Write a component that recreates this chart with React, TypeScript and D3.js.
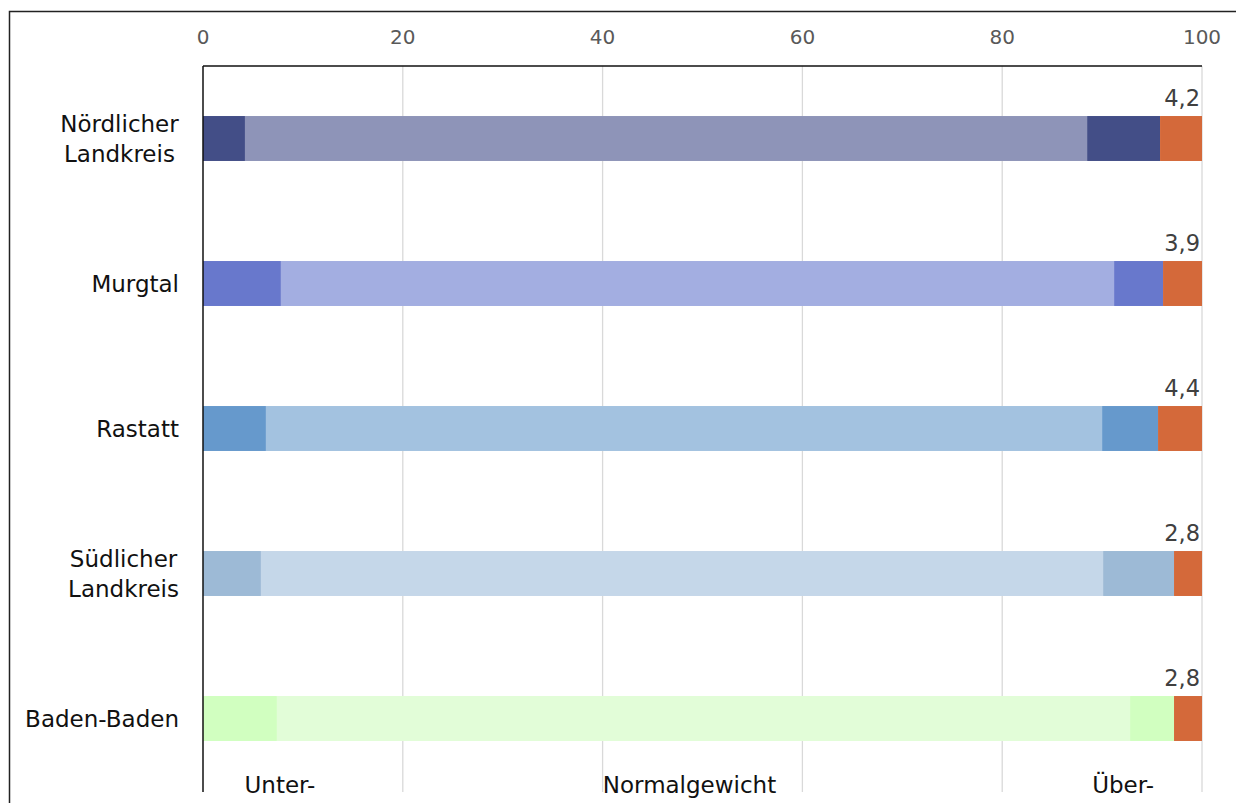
import React, { useEffect, useRef } from "react";
import * as d3 from "d3";

// regions, top to bottom (line breaks as in the original labels)
const regions = ["Nördlicher\nLandkreis", "Murgtal", "Rastatt", "Südlicher\nLandkreis", "Baden-Baden"];

// shares in percent: under, normal, over, obese
const underweight = [4.2, 7.8, 6.3, 5.8, 7.4];
const normalweight = [84.3, 83.4, 83.7, 84.3, 85.4];
const overweight = [7.3, 4.9, 5.6, 7.1, 4.4];
const obese = [4.2, 3.9, 4.4, 2.8, 2.8];

const darkColors = ["#434e87", "#6878cc", "#6699cc", "#9dbad6", "#d1ffc0"];
const lightColors = ["#8e94b8", "#a3aee1", "#a3c2e0", "#c5d7e9", "#e2fdd8"];
const obeseColor = "#d4693a";

const xTicks = [0, 20, 40, 60, 80, 100];

// bottom category captions, placed at the middle of their segment (in %)
const bottomLabels = ["Unter-", "Normalgewicht", "Über-"];
const bottomLabelPos = [7.7, 48.7, 92.1];

const FONT = "'DejaVu Sans', Verdana, sans-serif";

export default function App() {
    const ref = useRef<SVGSVGElement | null>(null);

    useEffect(() => {
        document.body.style.margin = "0";
        const svg = d3.select(ref.current);
        svg.selectAll("*").remove();

        const width = 1236;
        const height = 803;
        const left = 203;
        const right = 1202;
        const top = 66;
        const bottom = 792;

        const x = d3.scaleLinear().domain([0, 100]).range([left, right]);
        const y = d3.scaleBand()
            .domain(regions)
            .range([top, bottom - 1])
            .paddingInner(0.69)
            .paddingOuter(0.345);

        // outer frame
        svg.append("rect")
            .attr("x", 9.5)
            .attr("y", 11.5)
            .attr("width", width)
            .attr("height", height)
            .attr("fill", "none")
            .attr("stroke", "#222")
            .attr("stroke-width", 1.5);

        // grid
        svg.append("g")
            .selectAll("line")
            .data(xTicks.slice(1))
            .enter()
            .append("line")
            .attr("x1", d => x(d))
            .attr("x2", d => x(d))
            .attr("y1", top)
            .attr("y2", bottom)
            .attr("stroke", "#d9d9d9")
            .attr("stroke-width", 1.3);

        // tick labels
        svg.append("g")
            .selectAll("text")
            .data(xTicks)
            .enter()
            .append("text")
            .attr("x", d => x(d))
            .attr("y", 44)
            .attr("text-anchor", "middle")
            .attr("font-family", FONT)
            .attr("font-size", 20)
            .attr("fill", "#595959")
            .text(d => d);

        // stacked bars
        const rows = regions.map((r, i) => {
            const vals = [underweight[i], normalweight[i], overweight[i], obese[i]];
            const cols = [darkColors[i], lightColors[i], darkColors[i], obeseColor];
            let acc = 0;
            return vals.map((v, j) => {
                const seg = { region: r, x0: acc, x1: acc + v, color: cols[j] };
                acc += v;
                return seg;
            });
        });

        svg.append("g")
            .selectAll("rect")
            .data(rows.flat())
            .enter()
            .append("rect")
            .attr("x", d => x(d.x0))
            .attr("y", d => y(d.region)!)
            .attr("width", d => Math.max(0, x(Math.min(d.x1, 100)) - x(d.x0)))
            .attr("height", y.bandwidth())
            .attr("fill", d => d.color);

        // obese value labels
        svg.append("g")
            .selectAll("text")
            .data(regions)
            .enter()
            .append("text")
            .attr("x", x(100) - 2)
            .attr("y", d => y(d)! - 10)
            .attr("text-anchor", "end")
            .attr("font-family", FONT)
            .attr("font-size", 22.5)
            .attr("fill", "#404040")
            .text((d, i) => obese[i].toFixed(1).replace(".", ","));

        // frame lines of the plot area
        svg.append("line")
            .attr("x1", left)
            .attr("x2", right)
            .attr("y1", top)
            .attr("y2", top)
            .attr("stroke", "#111")
            .attr("stroke-width", 1.5);
        svg.append("line")
            .attr("x1", left)
            .attr("x2", left)
            .attr("y1", top)
            .attr("y2", bottom)
            .attr("stroke", "#111")
            .attr("stroke-width", 1.5);

        // category labels (right aligned block, lines centred)
        regions.forEach(r => {
            const lines = r.split("\n");
            const cy = y(r)! + y.bandwidth() / 2;
            const t = svg.append("text")
                .attr("font-family", FONT)
                .attr("font-size", 23)
                .attr("fill", "#111")
                .attr("text-anchor", "middle");
            lines.forEach((l, k) => {
                t.append("tspan")
                    .attr("x", 0)
                    .attr("y", cy + 8 + (k - (lines.length - 1) / 2) * 30)
                    .text(l);
            });
            const w = (t.node() as SVGTextElement).getBBox().width;
            t.selectAll("tspan").attr("x", 179 - w / 2);
        });

        // bottom captions
        svg.append("g")
            .selectAll("text")
            .data(bottomLabels)
            .enter()
            .append("text")
            .attr("x", (d, i) => x(bottomLabelPos[i]))
            .attr("y", 793)
            .attr("text-anchor", "middle")
            .attr("font-family", FONT)
            .attr("font-size", 23)
            .attr("fill", "#111")
            .text(d => d);
    }, []);

    return <svg ref={ref} width={1236} height={803} style={{ display: "block", background: "#fff" }} />;
}
